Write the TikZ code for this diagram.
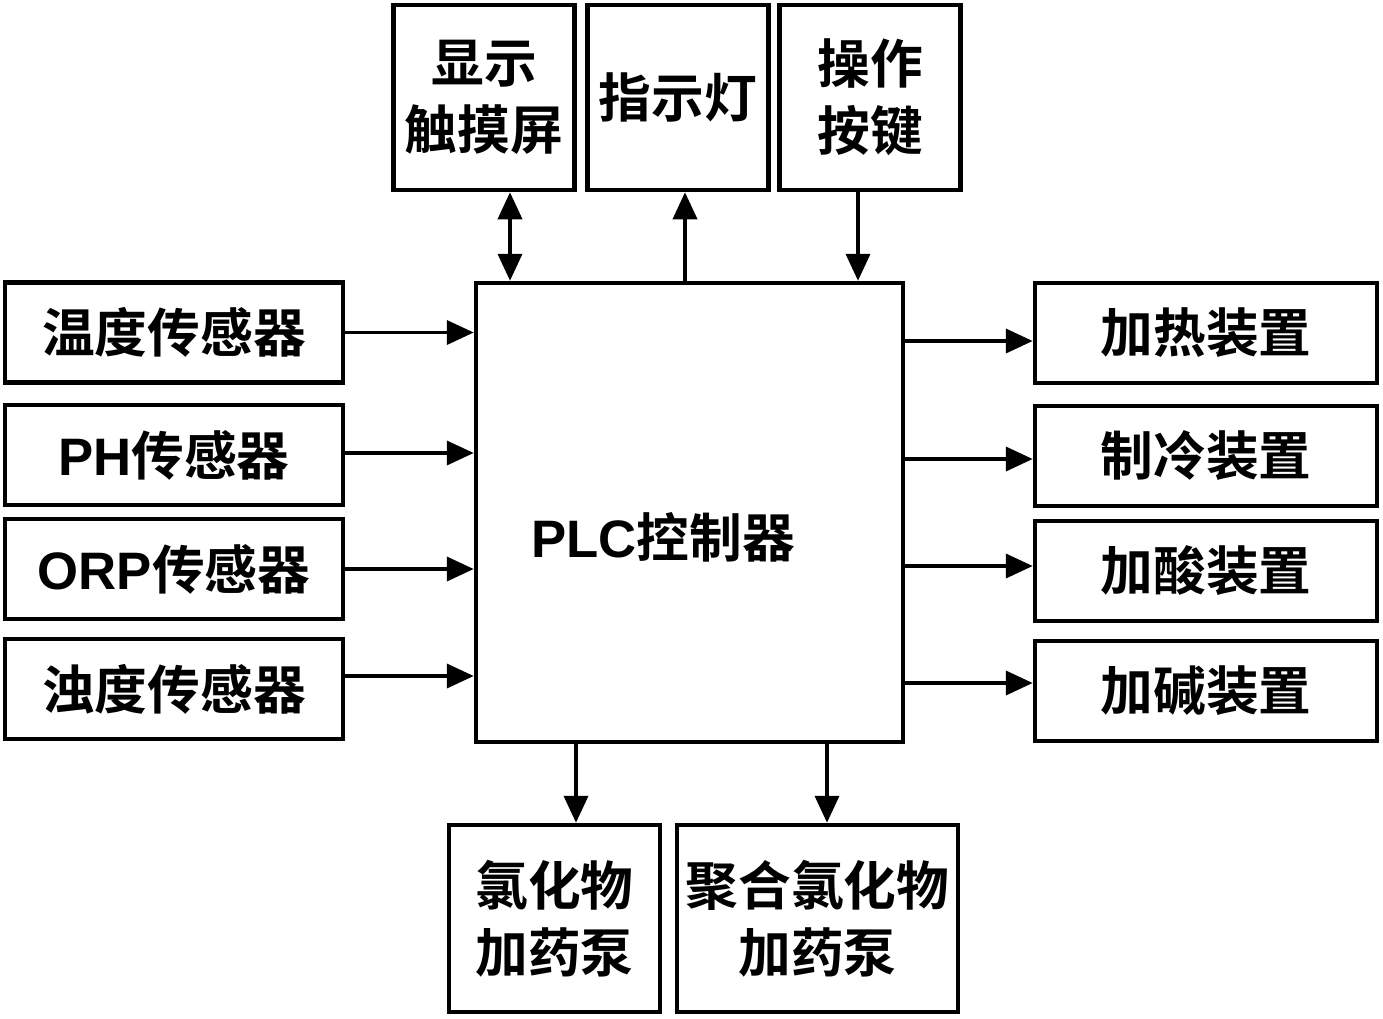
\documentclass[tikz,border=0pt]{standalone}
\usepackage{fontspec}
\newfontfamily\cjk{Noto Sans CJK SC Bold}
\newfontfamily\lat{Liberation Sans}
\usetikzlibrary{arrows.meta,calc}

\begin{document}
\begin{tikzpicture}
	[   x=0.02cm,y=-0.02cm,
	    box/.style={draw=black,line width=2.6pt,fill=white,inner sep=2pt,align=center,
	        font=\cjk\fontsize{30}{38}\selectfont},
	    sbox/.style={box,minimum width=6.76cm,minimum height=2cm},
	    obox/.style={box,minimum width=6.84cm,minimum height=2cm},
	    tbox/.style={box,minimum width=3.62cm,minimum height=3.7cm},
	]
	\tikzset{normal arrow/.style={draw,line width=2.2pt,-{Triangle[width=0.48cm,length=0.54cm]}}}
	\useasboundingbox (0,0) rectangle (1383,1018);
	
	% controller
	\node[box,minimum width=8.54cm,minimum height=9.18cm,
	      label={[xshift=-0.53cm,yshift=-0.49cm,font=\cjk\fontsize{30}{38}\selectfont]center:{\lat\bfseries PLC}控制器}] (plc) at (689.5,512.5) {};
	
	% top row
	\node[tbox] (disp) at (484,97.5) {显示\\触摸屏};
	\node[tbox] (lamp) at (678,97.5) {指示灯};
	\node[tbox] (keys) at (870,97.5) {操作\\按键};
	\path[normal arrow,{Triangle[width=0.48cm,length=0.54cm]}-{Triangle[width=0.48cm,length=0.54cm]}]
	    ([xshift=0.52cm]disp.south) -- ([xshift=0.52cm]disp.south |- plc.north);
	\path[normal arrow] ([xshift=0.14cm]lamp.south |- plc.north) -- ([xshift=0.14cm]lamp.south);
	\path[normal arrow] ([xshift=-0.24cm]keys.south) -- ([xshift=-0.24cm]keys.south |- plc.north);
	
	% sensors
	\foreach \i/\y/\dy/\t in {1/332.5/0/温度传感器, 2/455/0.04/{{\lat\bfseries PH}传感器},
	                          3/569/0/{{\lat\bfseries ORP}传感器}, 4/689/0.26/浊度传感器}
	{
		\node[sbox] (s-\i) at (174,\y) {\t};
		\path[normal arrow] ([yshift=\dy cm]s-\i.east) -- ([yshift=\dy cm]s-\i.east -| plc.west);
	}
	
	% actuators
	\foreach \i/\y/\dy/\t in {1/333/-0.16/加热装置, 2/456/-0.06/制冷装置,
	                          3/571/0.1/加酸装置, 4/691/0.16/加碱装置}
	{
		\node[obox] (d-\i) at (1206,\y) {\t};
		\path[normal arrow] ([yshift=\dy cm]d-\i.west -| plc.east) -- ([yshift=\dy cm]d-\i.west);
	}
	
	% dosing pumps
	\node[box,minimum width=4.22cm,minimum height=3.74cm] (pump-1) at (554.5,918.5) {氯化物\\加药泵};
	\node[box,minimum width=5.62cm,minimum height=3.74cm] (pump-2) at (817.5,918.5) {聚合氯化物\\加药泵};
	\path[normal arrow] ([xshift=0.43cm]pump-1.north |- plc.south) -- ([xshift=0.43cm]pump-1.north);
	\path[normal arrow] ([xshift=0.19cm]pump-2.north |- plc.south) -- ([xshift=0.19cm]pump-2.north);
\end{tikzpicture}
\end{document}
